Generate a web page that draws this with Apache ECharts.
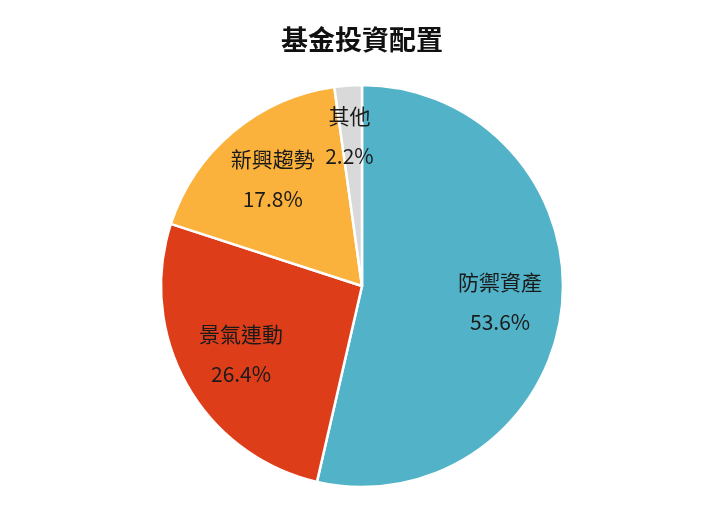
<!DOCTYPE html>
<html>
<head>
<meta charset="utf-8">
<script src="https://cdn.jsdelivr.net/npm/echarts@6.0.0/dist/echarts.min.js"></script>
<style>
  html, body { margin: 0; padding: 0; background: #fff; }
  #chart { width: 724px; height: 508px; }
</style>
</head>
<body>
<div id="chart"></div>
<script>
// 資料
const categories = ['防禦資產', '景氣連動', '新興趨勢', '其他'];
const values = [53.6, 26.4, 17.8, 2.2];
const colors = ['#52B3C8', '#DD3E19', '#FBB23C', '#D9D9D9'];

const font = '"Noto Sans CJK TC", "Noto Sans", sans-serif';
const pieData = categories.map((name, i) => ({
  name: name,
  value: values[i],
  itemStyle: { color: colors[i] }
}));

// 標籤用的透明環資料（其他那塊標籤稍微往上移）
const labelData = categories.map((name, i) => {
  const d = { name: name, value: values[i] };
  if (name === '其他') d.label = { offset: [-3, -11] };
  return d;
});

const chart = echarts.init(document.getElementById('chart'));
chart.setOption({
  backgroundColor: '#fff',
  animation: false,
  title: {
    text: '基金投資配置',
    left: 'center',
    top: 21,
    textStyle: { fontFamily: font, fontSize: 27, fontWeight: 'bold', color: '#111' }
  },
  series: [
    {
      // 圓餅本體
      type: 'pie',
      center: [362, 286],
      radius: [0, 201],
      startAngle: 90,
      clockwise: true,
      silent: true,
      label: { show: false },
      labelLine: { show: false },
      itemStyle: { borderColor: '#fff', borderWidth: 2.5 },
      data: pieData
    },
    {
      // 透明環只用來放標籤
      type: 'pie',
      center: [362, 286],
      radius: [100, 172],
      startAngle: 90,
      clockwise: true,
      silent: true,
      itemStyle: { color: 'transparent' },
      labelLine: { show: false },
      label: {
        show: true,
        position: 'inside',
        formatter: p => p.name + '\n' + p.value.toFixed(1) + '%',
        fontFamily: font,
        fontSize: 21,
        lineHeight: 40,
        color: '#1a1a1a'
      },
      data: labelData
    }
  ]
});
</script>
</body>
</html>
